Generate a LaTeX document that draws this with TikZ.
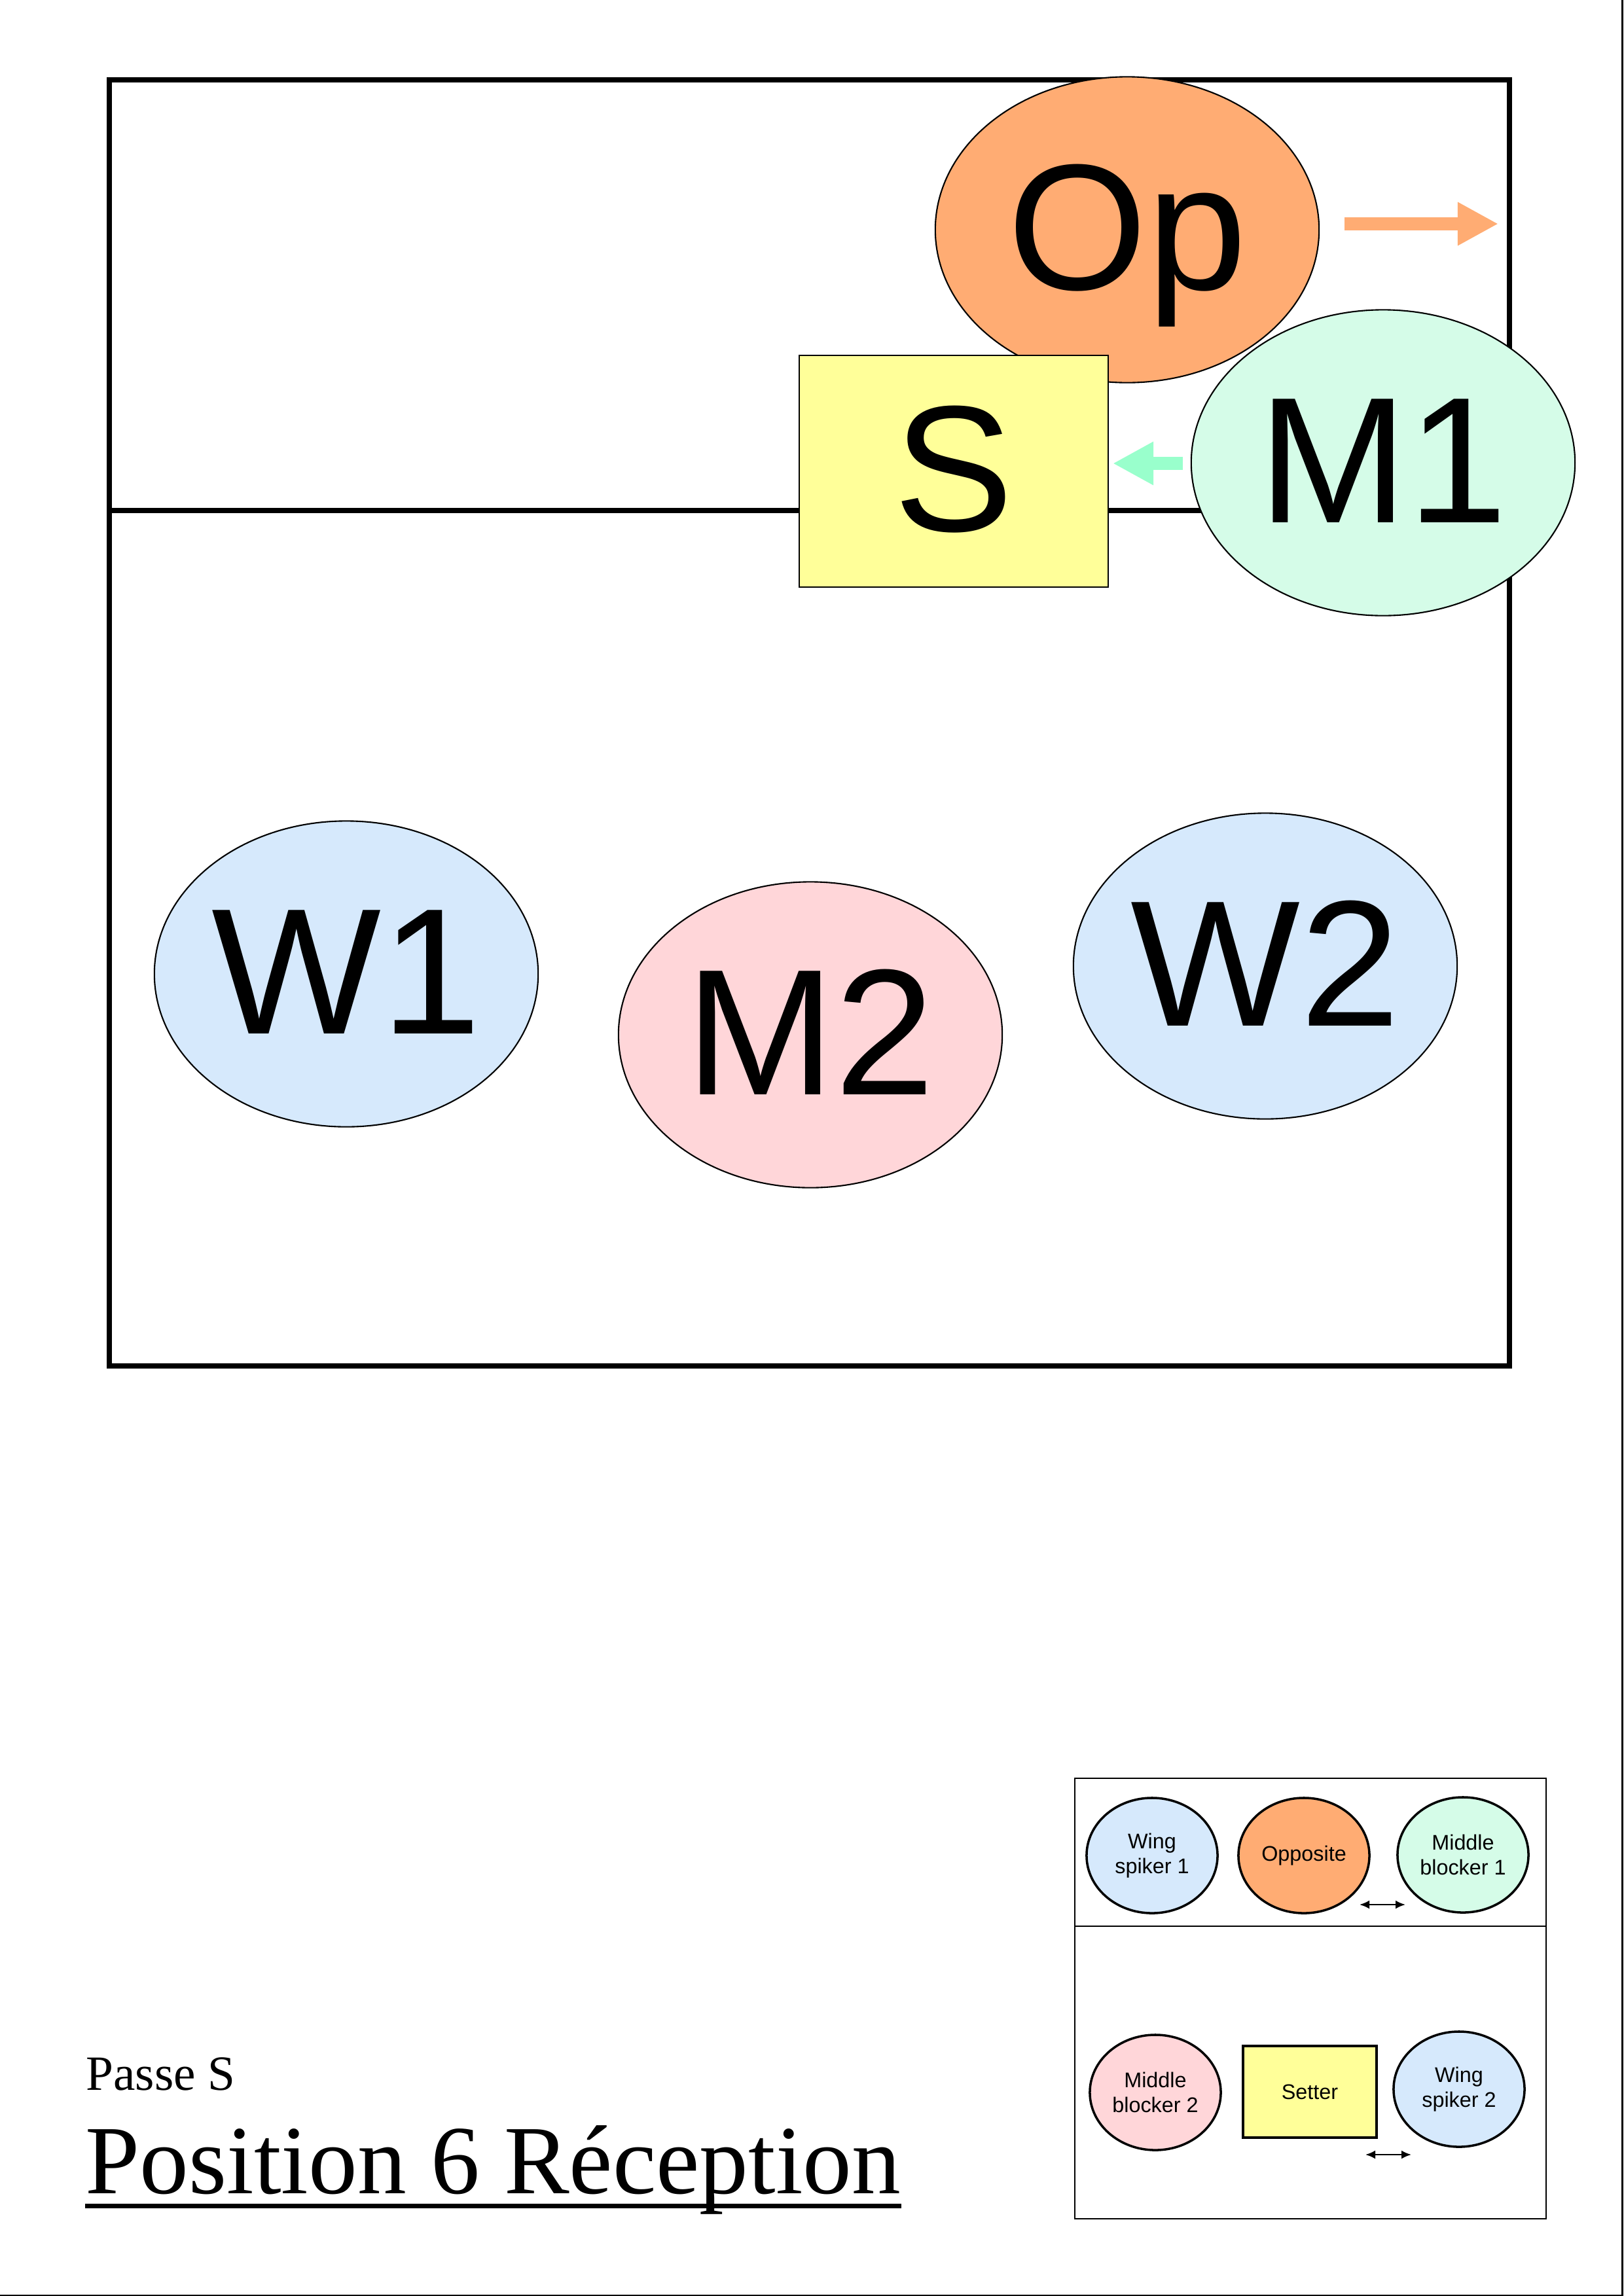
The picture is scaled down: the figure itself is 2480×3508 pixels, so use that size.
\documentclass[tikz,border=0pt]{standalone}
\usepackage{fontspec}
\setmainfont{Liberation Serif}
\setsansfont{Liberation Sans}
\usetikzlibrary{arrows.meta, positioning, shapes.geometric}

\definecolor{oppcol}{RGB}{255,172,115}
\definecolor{midcolA}{RGB}{213,252,232}
\definecolor{midarrow}{RGB}{153,255,204}
\definecolor{wingcol}{RGB}{214,233,252}
\definecolor{midcolB}{RGB}{255,214,217}
\definecolor{setcol}{RGB}{255,255,153}

\begin{document}
\begin{tikzpicture}[x=0.01cm, y=-0.01cm,
        player/.style={ellipse, draw, line width=0.6pt, inner sep=0pt,
            minimum width=5.86cm, minimum height=4.67cm,
            font=\sffamily\fontsize{78}{88}\selectfont, text height=55.8pt, text depth=4pt},
        setterbox/.style={rectangle, draw, line width=0.6pt, inner sep=0pt, fill=setcol,
            font=\sffamily\fontsize{78}{88}\selectfont, text height=55.8pt, text depth=4pt},
        keyrole/.style={ellipse, draw, line width=1pt, inner sep=0pt,
            minimum width=2cm, minimum height=1.76cm, align=center,
            font=\sffamily\fontsize{9.2}{10.8}\selectfont},
        move/.style={line width=0.2cm, -{Triangle[length=0.62cm, width=0.62cm]}},
        swap/.style={line width=0.7pt, {Latex[length=0.15cm, width=0.13cm]}-{Latex[length=0.15cm, width=0.13cm]}}]
        \useasboundingbox (0,0) rectangle (2480,3508);
        \draw[line width=0.03cm] (2478,0) -- (2478,3507) -- (0,3507);

        % court and net
        \draw[line width=0.08cm] (167,122) rectangle (2306,2087);
        \draw[line width=0.08cm] (167,780) -- (2306,780);

        \node[player, fill=oppcol]      (op)     at (1722,351)                  {Op};
        \node[setterbox, minimum width=4.72cm, minimum height=3.54cm]
                                        (s)      at (1457,720)                  {S};
        \node[player, fill=midcolA]     (m_1)    at (2113,707)                  {M1};
        \node[player, fill=wingcol]     (w_1)    at (529,1488)                  {W1};
        \node[player, fill=midcolB]     (m_2)    at (1238,1581)                 {M2};
        \node[player, fill=wingcol]     (w_2)    at (1933,1476)                 {W2};

        \coordinate (op_from)  at (2054,342);
        \coordinate (op_to)    at (2289,342);
        \coordinate (m_1_from) at (1807,708);
        \coordinate (m_1_to)   at (1700,708);
        \draw[move, oppcol]   (op_from)  -- (op_to);
        \draw[move, midarrow] (m_1_from) -- (m_1_to);

        % legend
        \draw[line width=0.02cm] (1642,2717) rectangle (2362,3390);
        \draw[line width=0.02cm] (1642,2943) -- (2362,2943);

        \node[keyrole, fill=wingcol]    (k_w1)   at (1760,2835)     {Wing\\spiker 1};
        \node[keyrole, fill=oppcol]     (k_op)   at (1992,2835)     {Opposite};
        \node[keyrole, fill=midcolA]    (k_m1)   at (2235,2834)     {Middle\\blocker 1};
        \node[keyrole, fill=midcolB]    (k_m2)   at (1765,3197)     {Middle\\blocker 2};
        \node[rectangle, draw, line width=1pt, fill=setcol, minimum width=2.04cm, minimum height=1.4cm,
              font=\sffamily\fontsize{9.2}{10.8}\selectfont]
                                        (k_s)    at (2001,3196)     {Setter};
        \node[keyrole, fill=wingcol]    (k_w2)   at (2229,3192)     {Wing\\spiker 2};

        \coordinate (sw_a) at (2077,2910);
        \coordinate (sw_b) at (2147,2910);
        \coordinate (sw_c) at (2086,3292);
        \coordinate (sw_d) at (2156,3292);
        \draw[swap] (sw_a) -- (sw_b);
        \draw[swap] (sw_c) -- (sw_d);

        % title
        \node[anchor=base west, inner sep=0pt, font=\fontsize{21.4}{25}\selectfont]
                                        (sub)    at (131,3193)      {Passe S};
        \node[anchor=base west, inner sep=0pt, font=\fontsize{42.5}{50}\selectfont]
                                        (title)  at (130,3351)      {Position 6 Réception};
        \draw[line width=0.07cm] ([yshift=-0.19cm]title.base west) -- ([yshift=-0.19cm]title.base east);
\end{tikzpicture}
\end{document}
